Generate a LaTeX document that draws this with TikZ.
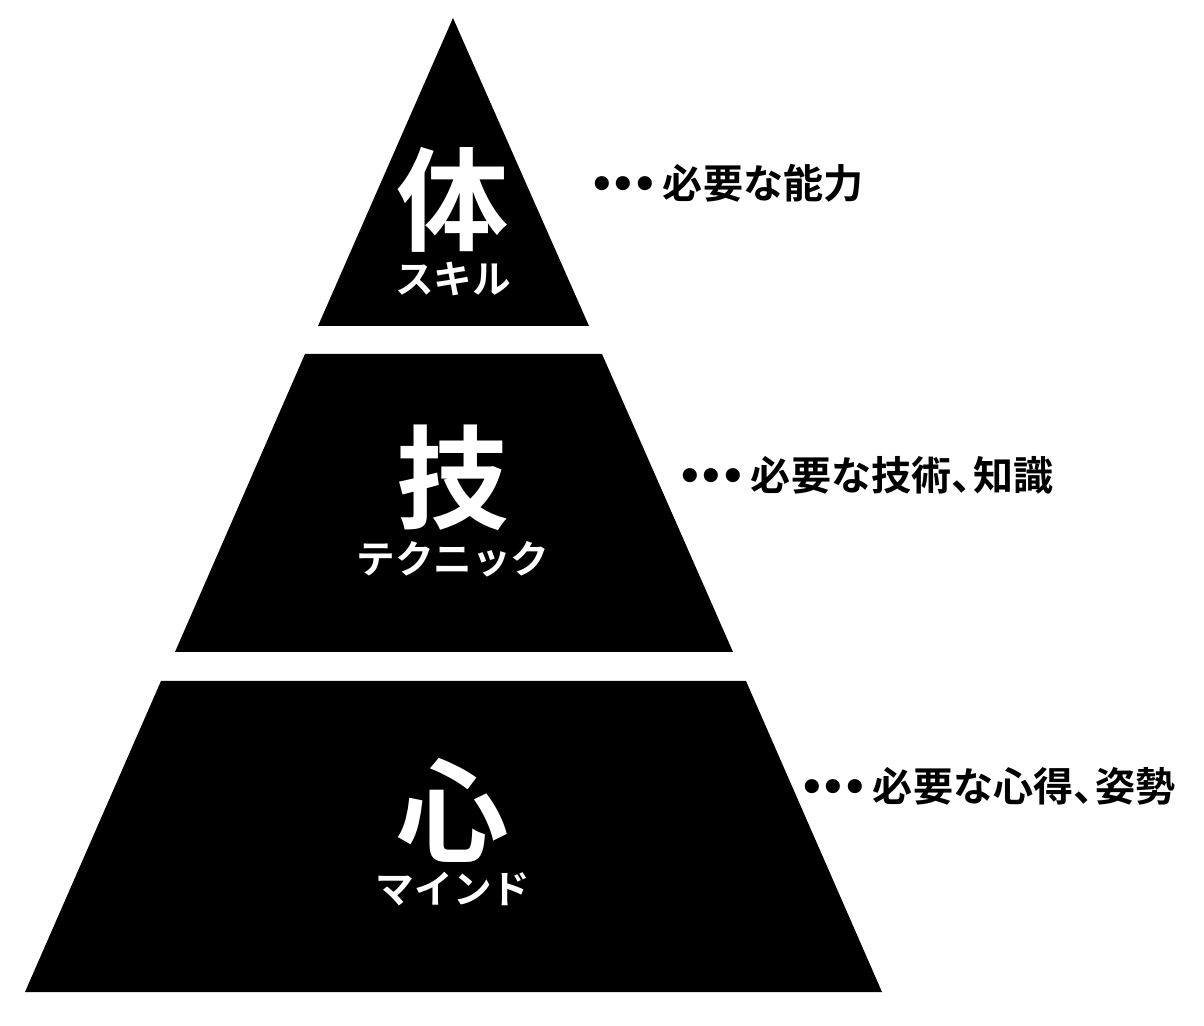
\documentclass[tikz,border=0pt]{standalone}
\usepackage{fontspec}
\newfontfamily\jpfont{Noto Sans CJK JP}[BoldFont={* Bold}]
\newfontfamily\dotfont{DejaVu Sans}
\usepackage{tikz}
\usetikzlibrary{positioning}

\begin{document}
\begin{tikzpicture}[
  x=0.02cm, y=-0.02cm,
  tier/.style={fill=black, draw=none},
  kanji/.style={inner sep=0pt, text=white, font=\jpfont\bfseries\fontsize{64pt}{66pt}\selectfont},
  kana/.style={inner sep=0pt, text=white, font=\jpfont\bfseries\fontsize{22pt}{24pt}\selectfont},
  note/.style={inner sep=0pt, anchor=west, text=black, font=\jpfont\bfseries\fontsize{22.8pt}{24pt}\selectfont}
]
\useasboundingbox (0,0) rectangle (1204,1026);

% Pyramid tiers
\fill[tier] (453,18) -- (589,326) -- (318,326) -- cycle;
\fill[tier] (305,354) -- (602,354) -- (733,652) -- (175,652) -- cycle;
\fill[tier] (161,681) -- (746,681) -- (882,992) -- (25,992) -- cycle;

% Tier labels
\node[kanji] (tai) at (453,200) {体};
\node[kana] (skill) at (453,279) {スキル};
\node[kanji] (gi) at (453,478) {技};
\node[kana] (technique) at (453,559) {テクニック};
\node[kanji] (shin) at (453,810) {心};
\node[kana] (mind) at (453,889) {マインド};

% Notes
\node[note] (ability) at (589,183)
  {{\dotfont •\kern-.1em•\kern-.1em•}\hspace{.12em}必要な能力};
\node[note] (knowledge) at (677,475)
  {{\dotfont •\kern-.1em•\kern-.1em•}\hspace{.12em}必要な技術、\kern-.45em知識};
\node[note] (attitude) at (799,786)
  {{\dotfont •\kern-.1em•\kern-.1em•}\hspace{.12em}必要な心得、\kern-.45em姿勢};

\end{tikzpicture}
\end{document}
